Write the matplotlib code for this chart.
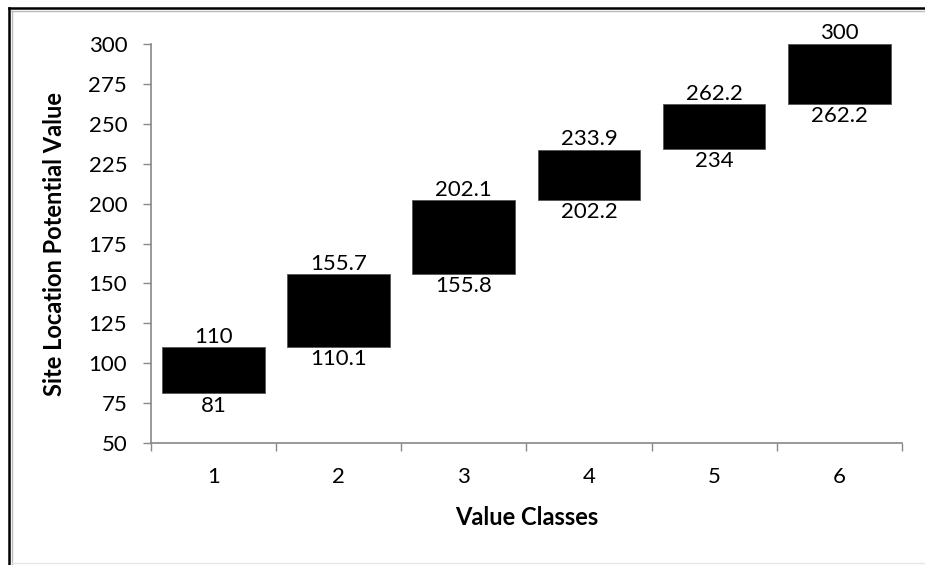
import matplotlib.pyplot as plt
from matplotlib.lines import Line2D
import numpy as np

# value classes and their low/high bounds
classes = ["1", "2", "3", "4", "5", "6"]
lows = [81, 110.1, 155.8, 202.2, 234, 262.2]
highs = [110, 155.7, 202.1, 233.9, 262.2, 300]
low_labels = ["81", "110.1", "155.8", "202.2", "234", "262.2"]
high_labels = ["110", "155.7", "202.1", "233.9", "262.2", "300"]
y_ticks = [50, 75, 100, 125, 150, 175, 200, 225, 250, 275, 300]

plt.rcParams['font.family'] = ['Lato', 'DejaVu Sans']
fs = 16

fig = plt.figure(figsize=(9.25, 5.65), dpi=100)
ax = fig.add_axes([0.163, 0.216, 0.812, 0.706])

x = np.arange(len(classes))
heights = np.array(highs) - np.array(lows)
ax.bar(x, heights, bottom=lows, width=0.82, color='black', edgecolor='#555555', linewidth=0.6)

for xi, lo, hi, ll, hl in zip(x, lows, highs, low_labels, high_labels):
    ax.annotate(hl, (xi, hi), xytext=(0, 0.5), textcoords='offset points',
                ha='center', va='bottom', fontsize=fs)
    ax.annotate(ll, (xi, lo), xytext=(0, -1.5), textcoords='offset points',
                ha='center', va='top', fontsize=fs)

ax.set_xlim(-0.5, len(classes) - 0.5)
ax.set_ylim(50, 300)
ax.set_yticks(y_ticks)
ax.set_xticks(x)
ax.set_xticklabels(classes)
ax.set_xticks(np.arange(-0.5, len(classes)), minor=True)
ax.tick_params(axis='x', which='major', length=0, pad=17, labelsize=fs)
ax.tick_params(axis='x', which='minor', length=6, color='#888888', width=1)
ax.tick_params(axis='y', length=6, color='#888888', width=1, labelsize=fs, pad=11)

for s in ['top', 'right']:
    ax.spines[s].set_visible(False)
for s in ['left', 'bottom']:
    ax.spines[s].set_color('#888888')
    ax.spines[s].set_linewidth(1.2)

ax.set_xlabel("Value Classes", fontsize=17, fontweight='bold', labelpad=14)
ax.set_ylabel("Site Location Potential Value", fontsize=17, fontweight='bold', labelpad=16)

# screenshot frame: black top/left edges with a thin gray line inside
fig.add_artist(Line2D([9 / 925, 1], [1 - 8 / 565, 1 - 8 / 565], color='black', lw=1.8))
fig.add_artist(Line2D([9 / 925, 9 / 925], [0, 1 - 8 / 565], color='black', lw=1.8))
fig.add_artist(Line2D([11 / 925, 1], [1 - 11 / 565, 1 - 11 / 565], color='#bbbbbb', lw=1))
fig.add_artist(Line2D([12 / 925, 12 / 925], [0, 1 - 11 / 565], color='#bbbbbb', lw=1))
fig.add_artist(Line2D([12 / 925, 1], [2 / 565, 2 / 565], color='#e6e6e6', lw=1))

fig.savefig("out.png", dpi=100)
